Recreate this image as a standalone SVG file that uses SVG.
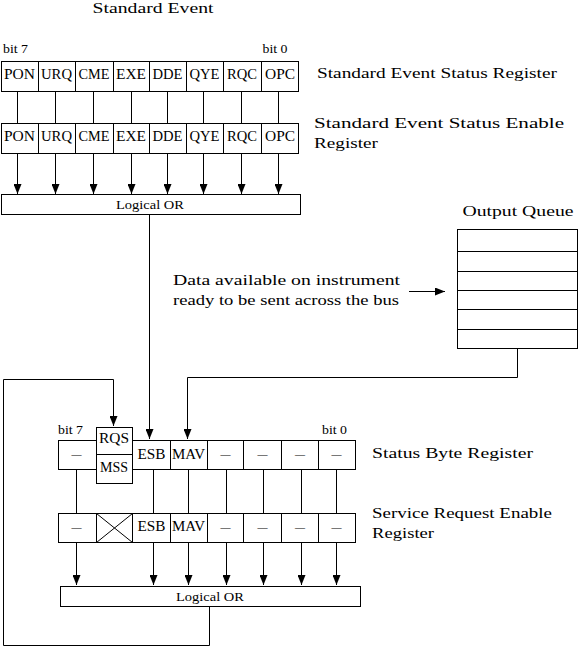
<svg xmlns="http://www.w3.org/2000/svg" width="579" height="648" viewBox="0 0 579 648">
<defs>
<marker id="ah" markerWidth="10" markerHeight="8" refX="10" refY="4" orient="auto" markerUnits="userSpaceOnUse" viewBox="0 0 10 8">
<path d="M0,0 L10,4 L0,8 Z" fill="#000"/>
</marker>
</defs>
<style>
text{font-family:"Liberation Serif","Times New Roman",serif;fill:#000}
.lbl{font-size:15.5px}
.cell{font-size:14px;text-anchor:middle}
.bit{font-size:12px}
.or{font-size:12.5px;text-anchor:middle}
.box{fill:#fff;stroke:#000;stroke-width:1}
.ln{fill:none;stroke:#000;stroke-width:1}
.arr{fill:none;stroke:#000;stroke-width:1;marker-end:url(#ah)}
</style>
<rect width="579" height="648" fill="#fff"/>

<text class="lbl" x="92.5" y="13" textLength="121" lengthAdjust="spacingAndGlyphs">Standard Event</text>

<g id="connectors">
<path class="ln" d="M17.5,91 V123 M55.5,91 V123 M93.5,91 V123 M131.5,91 V123 M167.5,91 V123 M203.5,91 V123 M241.5,91 V123 M278.5,91 V123"/>
<path class="arr" d="M17.5,153 V194"/>
<path class="arr" d="M55.5,153 V194"/>
<path class="arr" d="M93.5,153 V194"/>
<path class="arr" d="M131.5,153 V194"/>
<path class="arr" d="M167.5,153 V194"/>
<path class="arr" d="M203.5,153 V194"/>
<path class="arr" d="M241.5,153 V194"/>
<path class="arr" d="M278.5,153 V194"/>
<path class="arr" d="M149.5,215 V439"/>
<path class="arr" d="M517.5,348 V377.5 H187.5 V439"/>
<path class="arr" d="M409,291.5 H445"/>
<path class="arr" d="M209.5,607 V645.5 H3.5 V379.5 H113.5 V426"/>
<path class="ln" d="M76.5,469 V513 M153.5,469 V513 M188.5,469 V513 M226.5,469 V513 M263.5,469 V513 M301.5,469 V513 M336.5,469 V513"/>
<path class="arr" d="M76.5,542 V585"/>
<path class="arr" d="M153.5,542 V585"/>
<path class="arr" d="M188.5,542 V585"/>
<path class="arr" d="M226.5,542 V585"/>
<path class="arr" d="M263.5,542 V585"/>
<path class="arr" d="M301.5,542 V585"/>
<path class="arr" d="M336.5,542 V585"/>
</g>

<g id="sesr">
<text class="bit" x="3" y="53" textLength="25" lengthAdjust="spacingAndGlyphs">bit 7</text>
<text class="bit" x="262.5" y="53" textLength="25" lengthAdjust="spacingAndGlyphs">bit 0</text>
<rect class="box" x="1.5" y="61.5" width="297" height="30"/>
<path class="ln" d="M38.5,61.5 V91.5 M75.5,61.5 V91.5 M113.5,61.5 V91.5 M149.5,61.5 V91.5 M186.5,61.5 V91.5 M223.5,61.5 V91.5 M261.5,61.5 V91.5"/>
<text class="cell" x="19.5" y="79" textLength="31" lengthAdjust="spacingAndGlyphs">PON</text>
<text class="cell" x="56.5" y="79" textLength="31" lengthAdjust="spacingAndGlyphs">URQ</text>
<text class="cell" x="94" y="79" textLength="31" lengthAdjust="spacingAndGlyphs">CME</text>
<text class="cell" x="131" y="79" textLength="30" lengthAdjust="spacingAndGlyphs">EXE</text>
<text class="cell" x="167.5" y="79" textLength="30" lengthAdjust="spacingAndGlyphs">DDE</text>
<text class="cell" x="204.5" y="79" textLength="30" lengthAdjust="spacingAndGlyphs">QYE</text>
<text class="cell" x="242" y="79" textLength="30" lengthAdjust="spacingAndGlyphs">RQC</text>
<text class="cell" x="280" y="79" textLength="30" lengthAdjust="spacingAndGlyphs">OPC</text>
<text class="lbl" x="317" y="78" textLength="240" lengthAdjust="spacingAndGlyphs">Standard Event Status Register</text>
</g>

<g id="sese">
<rect class="box" x="1.5" y="123.5" width="297" height="30"/>
<path class="ln" d="M38.5,123.5 V153.5 M75.5,123.5 V153.5 M113.5,123.5 V153.5 M149.5,123.5 V153.5 M186.5,123.5 V153.5 M223.5,123.5 V153.5 M261.5,123.5 V153.5"/>
<text class="cell" x="19.5" y="141" textLength="31" lengthAdjust="spacingAndGlyphs">PON</text>
<text class="cell" x="56.5" y="141" textLength="31" lengthAdjust="spacingAndGlyphs">URQ</text>
<text class="cell" x="94" y="141" textLength="31" lengthAdjust="spacingAndGlyphs">CME</text>
<text class="cell" x="131" y="141" textLength="30" lengthAdjust="spacingAndGlyphs">EXE</text>
<text class="cell" x="167.5" y="141" textLength="30" lengthAdjust="spacingAndGlyphs">DDE</text>
<text class="cell" x="204.5" y="141" textLength="30" lengthAdjust="spacingAndGlyphs">QYE</text>
<text class="cell" x="242" y="141" textLength="30" lengthAdjust="spacingAndGlyphs">RQC</text>
<text class="cell" x="280" y="141" textLength="30" lengthAdjust="spacingAndGlyphs">OPC</text>
<text class="lbl" x="314" y="128" textLength="250" lengthAdjust="spacingAndGlyphs">Standard Event Status Enable</text>
<text class="lbl" x="314" y="148" textLength="64" lengthAdjust="spacingAndGlyphs">Register</text>
</g>

<g id="or1">
<rect class="box" x="1.5" y="194.5" width="299" height="20"/>
<text class="or" x="150" y="209" textLength="68" lengthAdjust="spacingAndGlyphs">Logical OR</text>
</g>

<g id="queue">
<text class="lbl" x="462.5" y="216" textLength="111" lengthAdjust="spacingAndGlyphs">Output Queue</text>
<rect class="box" x="457.5" y="229.5" width="120" height="119"/>
<path class="ln" d="M457.5,251.5 H577.5 M457.5,271.5 H577.5 M457.5,290.5 H577.5 M457.5,309.5 H577.5 M457.5,329.5 H577.5"/>
</g>

<g id="data">
<text class="lbl" x="173" y="285" textLength="227" lengthAdjust="spacingAndGlyphs">Data available on instrument</text>
<text class="lbl" x="173" y="305" textLength="226" lengthAdjust="spacingAndGlyphs">ready to be sent across the bus</text>
</g>

<g id="stb">
<text class="bit" x="58" y="434" textLength="25" lengthAdjust="spacingAndGlyphs">bit 7</text>
<text class="bit" x="322" y="434" textLength="25" lengthAdjust="spacingAndGlyphs">bit 0</text>
<rect class="box" x="58.5" y="440.5" width="297" height="29"/>
<path class="ln" d="M132.5,440.5 V469.5 M170.5,440.5 V469.5 M207.5,440.5 V469.5 M243.5,440.5 V469.5 M281.5,440.5 V469.5 M318.5,440.5 V469.5"/>
<rect class="box" x="96.5" y="427.5" width="36" height="56"/>
<path class="ln" d="M96.5,454.5 H132.5"/>
<text class="cell" x="76.5" y="459" textLength="10" lengthAdjust="spacingAndGlyphs">–</text>
<text class="cell" x="114" y="443" textLength="30" lengthAdjust="spacingAndGlyphs">RQS</text>
<text class="cell" x="114" y="472" textLength="28" lengthAdjust="spacingAndGlyphs">MSS</text>
<text class="cell" x="151.5" y="458.5" textLength="28" lengthAdjust="spacingAndGlyphs">ESB</text>
<text class="cell" x="188.5" y="458.5" textLength="33" lengthAdjust="spacingAndGlyphs">MAV</text>
<text class="cell" x="225.5" y="459" textLength="10" lengthAdjust="spacingAndGlyphs">–</text>
<text class="cell" x="262.5" y="459" textLength="10" lengthAdjust="spacingAndGlyphs">–</text>
<text class="cell" x="300" y="459" textLength="10" lengthAdjust="spacingAndGlyphs">–</text>
<text class="cell" x="336.5" y="459" textLength="10" lengthAdjust="spacingAndGlyphs">–</text>
<text class="lbl" x="372" y="458" textLength="161" lengthAdjust="spacingAndGlyphs">Status Byte Register</text>
</g>

<g id="sre">
<rect class="box" x="58.5" y="513.5" width="297" height="29"/>
<path class="ln" d="M96.5,513.5 V542.5 M132.5,513.5 V542.5 M170.5,513.5 V542.5 M207.5,513.5 V542.5 M243.5,513.5 V542.5 M281.5,513.5 V542.5 M318.5,513.5 V542.5"/>
<path class="ln" d="M96.5,513.5 L132.5,542.5 M132.5,513.5 L96.5,542.5"/>
<text class="cell" x="76.5" y="532" textLength="10" lengthAdjust="spacingAndGlyphs">–</text>
<text class="cell" x="151.5" y="531" textLength="28" lengthAdjust="spacingAndGlyphs">ESB</text>
<text class="cell" x="188.5" y="531" textLength="33" lengthAdjust="spacingAndGlyphs">MAV</text>
<text class="cell" x="225.5" y="532" textLength="10" lengthAdjust="spacingAndGlyphs">–</text>
<text class="cell" x="262.5" y="532" textLength="10" lengthAdjust="spacingAndGlyphs">–</text>
<text class="cell" x="300" y="532" textLength="10" lengthAdjust="spacingAndGlyphs">–</text>
<text class="cell" x="336.5" y="532" textLength="10" lengthAdjust="spacingAndGlyphs">–</text>
<text class="lbl" x="372" y="518" textLength="180" lengthAdjust="spacingAndGlyphs">Service Request Enable</text>
<text class="lbl" x="372" y="538" textLength="62" lengthAdjust="spacingAndGlyphs">Register</text>
</g>

<g id="or2">
<rect class="box" x="60.5" y="586.5" width="300" height="20"/>
<text class="or" x="210" y="601" textLength="68" lengthAdjust="spacingAndGlyphs">Logical OR</text>
</g>
</svg>
